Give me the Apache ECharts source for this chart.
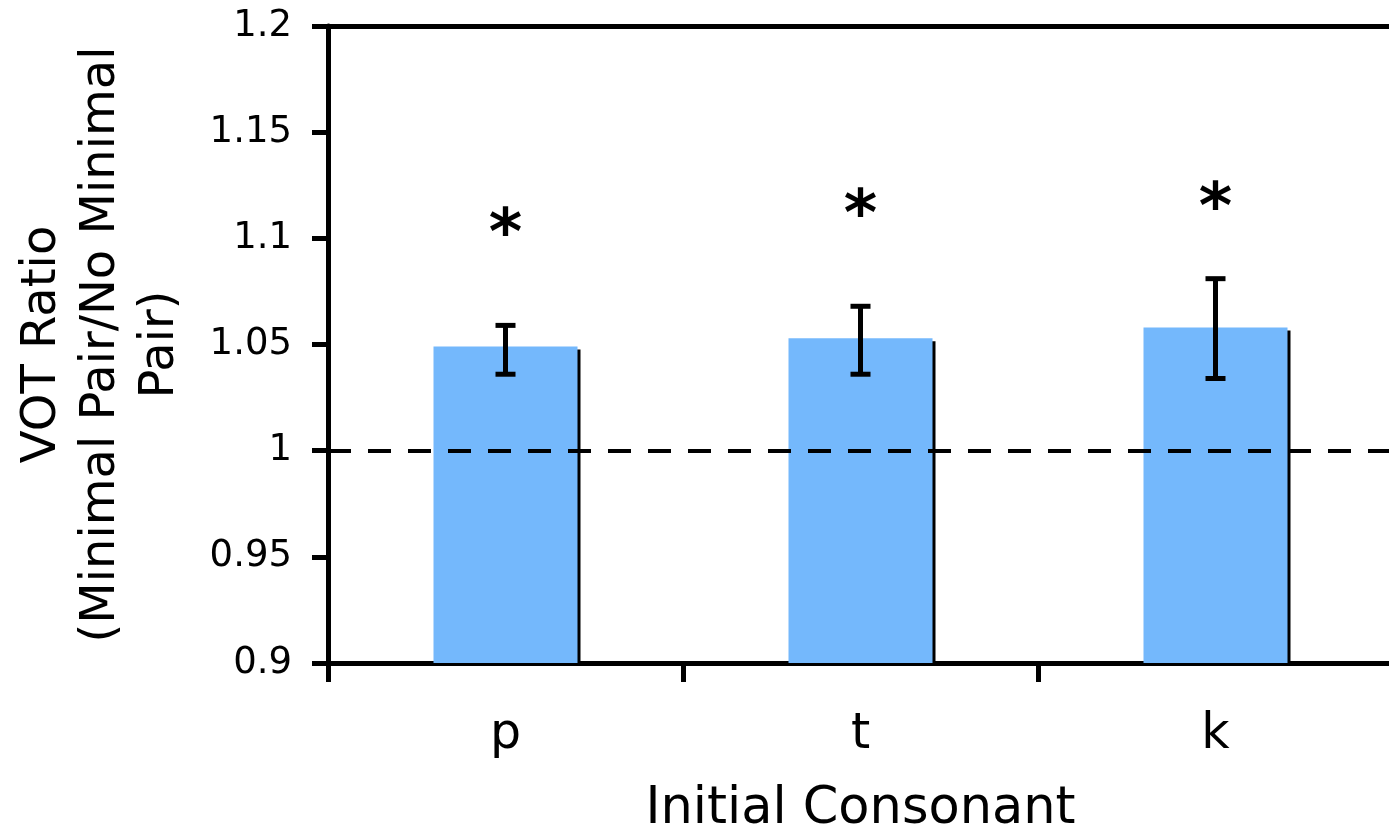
<!DOCTYPE html>
<html>
<head>
<meta charset="utf-8">
<script src="https://cdn.jsdelivr.net/npm/echarts@6/dist/echarts.min.js"></script>
<style>
  html, body { margin: 0; padding: 0; background: #fff; }
  #main { width: 1389px; height: 827px; }
</style>
</head>
<body>
<div id="main"></div>
<script>
var categories = ['p', 't', 'k'];
var votRatio = [1.049, 1.053, 1.058];     // bar heights
var errLow = [1.036, 1.036, 1.034];       // lower end of error bar
var errHigh = [1.059, 1.068, 1.081];      // upper end of error bar
var starPos = [1.108, 1.117, 1.120];      // where the * markers sit
var baseline = 1;                          // dashed reference line

var font = 'DejaVu Sans';
var myChart = echarts.init(document.getElementById('main'));

var errData = categories.map(function (c, i) {
    return [i, errLow[i], errHigh[i]];
});
var starData = categories.map(function (c, i) {
    return [i, starPos[i]];
});

var option = {
    backgroundColor: '#fff',
    animation: false,
    grid: { left: 328, width: 1065, top: 26, height: 637, containLabel: false, outerBoundsMode: 'none' },
    xAxis: [{
        type: 'category',
        data: categories,
        name: 'Initial Consonant',
        nameLocation: 'middle',
        nameGap: 121,
        nameTextStyle: { fontFamily: font, fontSize: 51, color: '#000' },
        axisLine: { lineStyle: { color: '#000', width: 5 } },
        axisTick: { show: true, length: 19, lineStyle: { color: '#000', width: 5 } },
        axisLabel: { fontFamily: font, fontSize: 49, color: '#000', margin: 48 }
    }, {
        // top border of the plot
        type: 'category',
        data: categories,
        position: 'top',
        axisLine: { lineStyle: { color: '#000', width: 5 } },
        axisTick: { show: false },
        axisLabel: { show: false }
    }],
    yAxis: {
        type: 'value',
        min: 0.9,
        max: 1.2,
        interval: 0.05,
        name: 'VOT Ratio\n(Minimal Pair/No Minimal\nPair)',
        nameLocation: 'middle',
        nameGap: 138,
        nameTextStyle: { fontFamily: font, fontSize: 48, lineHeight: 59, color: '#000', align: 'center' },
        axisLine: { show: true, lineStyle: { color: '#000', width: 5 } },
        axisTick: { show: true, length: 16, lineStyle: { color: '#000', width: 5 } },
        axisLabel: { fontFamily: font, fontSize: 37, color: '#000', margin: 36 },
        splitLine: { show: false }
    },
    series: [{
        type: 'bar',
        data: votRatio,
        barWidth: 144,
        itemStyle: {
            color: '#74b8fc',
            shadowColor: '#000',
            shadowOffsetX: 3,
            shadowOffsetY: 3,
            shadowBlur: 0
        },
        markLine: {
            silent: true,
            symbol: 'none',
            label: { show: false },
            lineStyle: { color: '#000', width: 4, type: [23, 17] },
            data: [{ yAxis: baseline }]
        }
    }, {
        type: 'custom',
        z: 5,
        data: errData,
        encode: { x: 0, y: [1, 2] },
        renderItem: function (params, api) {
            var lo = api.coord([api.value(0), api.value(1)]);
            var hi = api.coord([api.value(0), api.value(2)]);
            var st = { stroke: '#000', lineWidth: 5 };
            return {
                type: 'group',
                children: [
                    { type: 'line', shape: { x1: lo[0], y1: lo[1], x2: hi[0], y2: hi[1] }, style: st },
                    { type: 'line', shape: { x1: hi[0] - 10, y1: hi[1], x2: hi[0] + 10, y2: hi[1] }, style: st },
                    { type: 'line', shape: { x1: lo[0] - 10, y1: lo[1], x2: lo[0] + 10, y2: lo[1] }, style: st }
                ]
            };
        }
    }, {
        type: 'scatter',
        data: starData,
        symbolSize: 0,
        itemStyle: { color: '#000', opacity: 1 },
        label: {
            show: true,
            position: 'inside',
            formatter: '*',
            fontFamily: font,
            fontWeight: 'bold',
            fontSize: 64,
            color: '#000',
            opacity: 1,
            textBorderWidth: 0,
            offset: [0, 16]
        }
    }]
};
myChart.setOption(option);
</script>
</body>
</html>
